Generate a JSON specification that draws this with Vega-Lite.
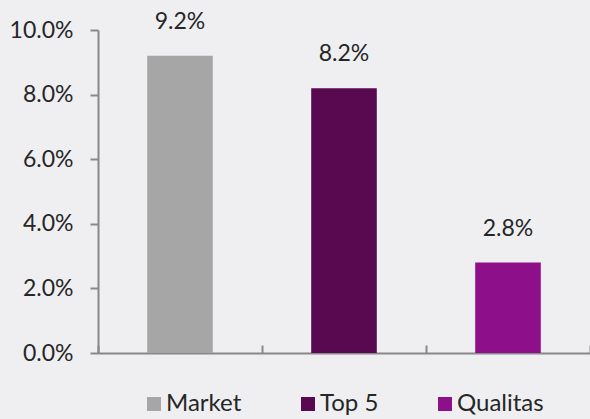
{
  "$schema": "https://vega.github.io/schema/vega-lite/v6.json",
  "width": 492,
  "height": 323,
  "autosize": "none",
  "padding": {"left": 98, "top": 30, "right": 0, "bottom": 66},
  "background": "#efeff2",
  "config": {
    "view": {"stroke": null},
    "font": "Lato"
  },
  "data": {
    "values": [
      {"category": "Market", "value": 0.092},
      {"category": "Top 5", "value": 0.082},
      {"category": "Qualitas", "value": 0.028}
    ]
  },
  "encoding": {
    "x": {
      "field": "category",
      "type": "nominal",
      "sort": ["Market", "Top 5", "Qualitas"],
      "scale": {"paddingInner": 0, "paddingOuter": 0},
      "axis": {
        "title": null,
        "labels": false,
        "tickBand": "extent",
        "tickSize": -8,
        "tickColor": "#888888",
        "tickWidth": 2,
        "domainColor": "#888888",
        "domainWidth": 2
      }
    },
    "y": {
      "field": "value",
      "type": "quantitative",
      "scale": {"domain": [0, 0.1], "nice": false},
      "axis": {
        "title": null,
        "format": ".1%",
        "values": [0, 0.02, 0.04, 0.06, 0.08, 0.1],
        "grid": false,
        "tickSize": 8,
        "tickColor": "#888888",
        "tickWidth": 2,
        "domainColor": "#888888",
        "domainWidth": 2,
        "labelFontSize": 23,
        "labelColor": "#262626",
        "labelPadding": 17
      }
    }
  },
  "layer": [
    {
      "mark": {"type": "bar", "width": {"band": 0.4}},
      "encoding": {
        "color": {
          "field": "category",
          "type": "nominal",
          "sort": ["Market", "Top 5", "Qualitas"],
          "scale": {"domain": ["Market", "Top 5", "Qualitas"], "range": ["#a6a6a6", "#58094f", "#8e0f8a"]},
          "legend": {
            "title": null,
            "orient": "none",
            "direction": "horizontal",
            "legendX": 44,
            "legendY": 362,
            "symbolType": "square",
            "symbolSize": 196,
            "symbolStrokeWidth": 0,
            "labelFontSize": 24,
            "labelColor": "#262626",
            "labelOffset": 0,
            "columnPadding": 54
          }
        }
      }
    },
    {
      "mark": {"type": "text", "dy": -27, "fontSize": 23, "color": "#262626", "baseline": "alphabetic"},
      "encoding": {
        "text": {"field": "value", "type": "quantitative", "format": ".1%"}
      }
    }
  ]
}
